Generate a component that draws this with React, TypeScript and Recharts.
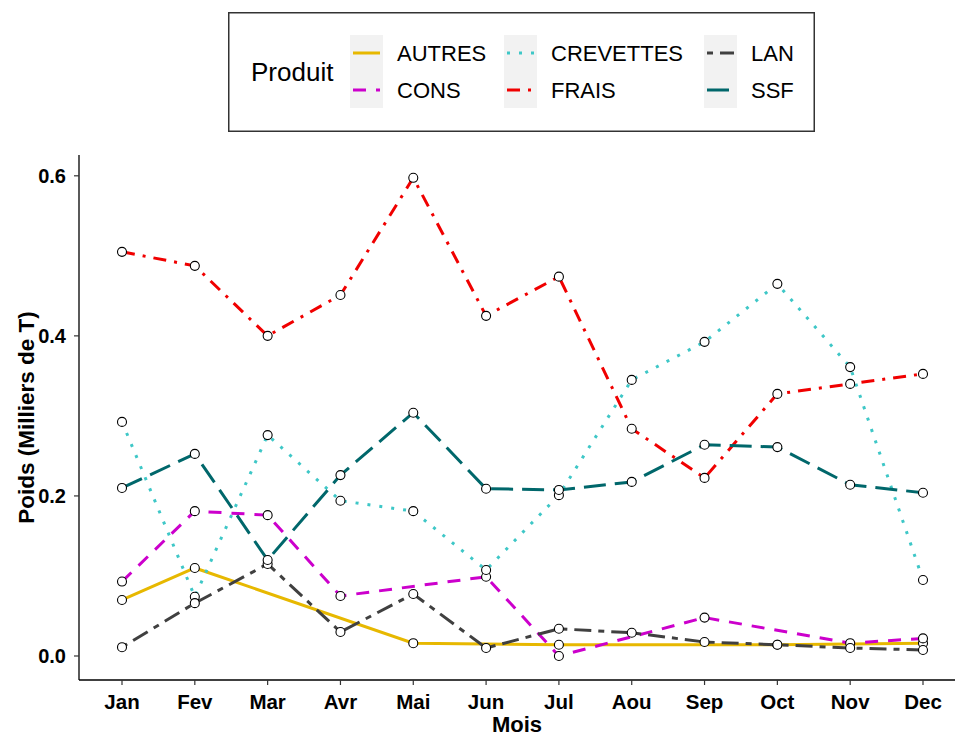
import React from 'react';
import { LineChart, Line, XAxis, YAxis, Legend, Label } from 'recharts';

const MONTHS = ['Jan', 'Fev', 'Mar', 'Avr', 'Mai', 'Jun', 'Jul', 'Aou', 'Sep', 'Oct', 'Nov', 'Dec'];

// poids en milliers de tonnes, null = mois sans donnee
const AUTRES = [0.07, 0.11, null, null, 0.016, null, 0.014, null, null, 0.014, null, 0.016];
const CONS = [0.093, 0.181, 0.176, 0.075, null, 0.099, 0.0, null, 0.048, null, 0.016, 0.022];
const CREVETTES = [0.2925, 0.074, 0.276, 0.194, 0.181, 0.1075, 0.201, 0.345, 0.3925, 0.465, 0.361, 0.095];
const FRAIS = [0.505, 0.4875, 0.4, 0.451, 0.5975, 0.425, 0.474, 0.284, 0.2225, 0.3275, 0.34, 0.3525];
const LAN = [0.011, 0.066, 0.115, 0.03, 0.0775, 0.01, 0.034, 0.029, 0.0175, 0.014, 0.01, 0.0075];
const SSF = [0.21, 0.2525, 0.12, 0.226, 0.304, 0.209, 0.2075, 0.2175, 0.264, 0.261, 0.214, 0.204];

const Y_TICKS = [0, 0.2, 0.4, 0.6];

const FONT = '"Liberation Sans", Arial, sans-serif';

const SERIES = [
  { key: 'AUTRES', values: AUTRES, color: '#E7B800', dash: undefined },
  { key: 'CONS', values: CONS, color: '#CC00CC', dash: '13 10' },
  { key: 'CREVETTES', values: CREVETTES, color: '#3EC7C7', dash: '3 9' },
  { key: 'FRAIS', values: FRAIS, color: '#F00000', dash: '13 8 3 8' },
  { key: 'LAN', values: LAN, color: '#404040', dash: '6 7 17 7' },
  { key: 'SSF', values: SSF, color: '#00676B', dash: '22 9' }
];

const data = MONTHS.map((m, i) => {
  const row: Record<string, any> = { mois: m };
  SERIES.forEach(s => {
    row[s.key] = s.values[i];
  });
  return row;
});

// legende style ggplot, trois colonnes de deux
function renderLegend() {
  const colX = [122, 276, 476];
  const labelX = [169, 323, 523];
  const rowY = [41, 78];
  return (
    <svg width={587} height={120} style={{ display: 'block' }}>
      <rect x={0.75} y={0.75} width={585.5} height={118.5} fill="#fff" stroke="#333" strokeWidth={1.5} />
      <text x={23} y={69} fontSize={26} fontFamily={FONT} fill="#000">Produit</text>
      {colX.map((x, c) => (
        <rect key={`bg-${c}`} x={x} y={23} width={33} height={73} fill="#F2F2F2" />
      ))}
      {SERIES.map((s, i) => {
        const c = Math.floor(i / 2);
        const r = i % 2;
        return (
          <g key={s.key}>
            <line
              x1={colX[c] + 3}
              x2={colX[c] + 30}
              y1={rowY[r]}
              y2={rowY[r]}
              stroke={s.color}
              strokeWidth={3}
              strokeDasharray={s.dash}
            />
            <text x={labelX[c]} y={rowY[r] + 8} fontSize={22} fontFamily={FONT} fill="#000">
              {s.key}
            </text>
          </g>
        );
      })}
    </svg>
  );
}

export default function App() {
  return (
    <div style={{ position: 'absolute', left: 0, top: 0, width: 955, height: 737, background: '#fff' }}>
      <LineChart
        width={955}
        height={737}
        data={data}
        margin={{ top: 155, right: 0, bottom: 0, left: 0 }}
      >
        <XAxis
          dataKey="mois"
          height={57}
          padding={{ left: 43, right: 32 }}
          axisLine={{ stroke: '#000', strokeWidth: 1.3 }}
          tickLine={{ stroke: '#333', strokeWidth: 1.2 }}
          tickSize={5}
          tickMargin={9}
          tick={{ fill: '#000', fontSize: 20.5, fontWeight: 700, fontFamily: FONT }}
          interval={0}
        >
          <Label
            value="Mois"
            position="insideBottom"
            offset={5}
            style={{ fill: '#000', fontSize: 22, fontWeight: 700, fontFamily: FONT }}
          />
        </XAxis>
        <YAxis
          width={79}
          domain={[-0.03, 0.626]}
          ticks={Y_TICKS}
          tickFormatter={(v: number) => v.toFixed(1)}
          axisLine={{ stroke: '#000', strokeWidth: 1.3 }}
          tickLine={{ stroke: '#333', strokeWidth: 1.2 }}
          tickSize={5}
          tickMargin={8}
          tick={{ fill: '#000', fontSize: 20, fontWeight: 700, fontFamily: FONT }}
        >
          <Label
            value="Poids (Milliers de T)"
            angle={-90}
            position="center"
            dx={-13}
            style={{ fill: '#000', fontSize: 22.5, fontWeight: 700, fontFamily: FONT, textAnchor: 'middle' }}
          />
        </YAxis>
        <Legend
          layout="horizontal"
          verticalAlign="middle"
          align="center"
          content={renderLegend}
          wrapperStyle={{ left: 228, top: 12, width: 587, height: 120 }}
        />
        {/* les lignes d'abord, les points ensuite (comme geom_line + geom_point) */}
        {SERIES.map(s => (
          <Line
            key={`line-${s.key}`}
            dataKey={s.key}
            type="linear"
            stroke={s.color}
            strokeWidth={3}
            strokeDasharray={s.dash}
            connectNulls
            dot={false}
            activeDot={false}
            isAnimationActive={false}
          />
        ))}
        {SERIES.map(s => (
          <Line
            key={`pts-${s.key}`}
            dataKey={s.key}
            type="linear"
            stroke="none"
            legendType="none"
            dot={{ r: 4.5, fill: '#fff', stroke: '#000', strokeWidth: 1.1, strokeDasharray: 'none' }}
            activeDot={false}
            isAnimationActive={false}
          />
        ))}
      </LineChart>
    </div>
  );
}
